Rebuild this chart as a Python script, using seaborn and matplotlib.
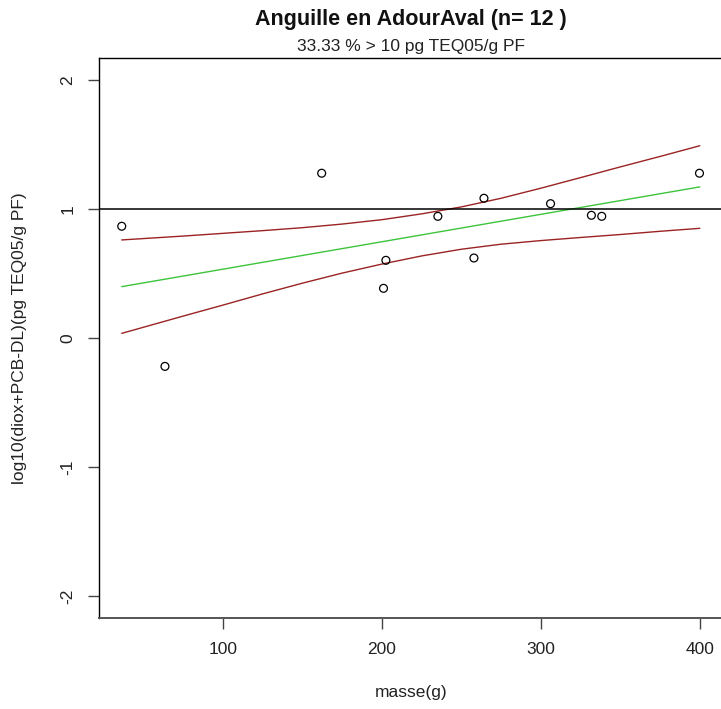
import matplotlib
matplotlib.use("Agg")
import matplotlib.pyplot as plt
import seaborn as sns
import pandas as pd

# ---- data ----
masse = [36.3, 63.5, 162.1, 201.0, 202.5, 235.2, 257.9, 264.2, 306.1, 331.8, 338.3, 399.8]
log_teq = [0.866, -0.22, 1.277, 0.385, 0.602, 0.943, 0.62, 1.083, 1.041, 0.951, 0.943, 1.277]

fit_x = [36.3, 400.0]
fit_y = [0.398, 1.171]

band_x = [36.3, 75, 100, 125, 150, 175, 200, 225, 250, 275, 300, 325, 350, 375, 400]
band_upper = [0.760, 0.790, 0.811, 0.832, 0.855, 0.883, 0.917, 0.962, 1.016,
              1.083, 1.161, 1.243, 1.326, 1.407, 1.490]
band_lower = [0.036, 0.170, 0.255, 0.342, 0.425, 0.503, 0.573, 0.636, 0.688,
              0.727, 0.755, 0.779, 0.802, 0.827, 0.850]

threshold = 1.0

x_ticks = [100, 200, 300, 400]
y_ticks = [-2, -1, 0, 1, 2]
y_tick_labels = ["-2", "-1", "0", "1", "2"]

title = "Anguille en AdourAval (n= 12 )"
subtitle = "33.33 % > 10 pg TEQ05/g PF"
xlabel = "masse(g)"
ylabel = "log10(diox+PCB-DL)(pg TEQ05/g PF)"

# ---- plotting ----
sns.set_theme(style="white")
plt.rcParams["font.family"] = ["Liberation Sans", "DejaVu Sans"]

W, H = 721, 709
fig = plt.figure(figsize=(W / 100, H / 100), dpi=100)
left, right, top, bottom = 99, 723, 58, 618
ax = fig.add_axes([left / W, 1 - bottom / H, (right - left) / W, (bottom - top) / H])

pts = pd.DataFrame({"masse": masse, "log": log_teq})
sns.scatterplot(data=pts, x="masse", y="log", ax=ax, marker="o", s=32,
                facecolor="none", edgecolor="black", linewidth=0.9, zorder=5)

sns.lineplot(x=band_x, y=band_upper, ax=ax, color="#9b2323", linewidth=1.0, estimator=None)
sns.lineplot(x=band_x, y=band_lower, ax=ax, color="#9b2323", linewidth=1.0, estimator=None)
sns.lineplot(x=fit_x, y=fit_y, ax=ax, color="#3cc43c", linewidth=1.0, estimator=None)

ax.axhline(threshold, color="black", linewidth=1.1, zorder=4)

ax.set_xlim(22, 414.6)
ax.set_ylim(-2.17, 2.17)
ax.set_xticks(x_ticks)
ax.set_xticklabels([str(t) for t in x_ticks])
ax.set_yticks(y_ticks)
ax.set_yticklabels(y_tick_labels, rotation=90, va="center")
ax.set_xlabel("")
ax.set_ylabel("")

ax.tick_params(axis="both", which="major", direction="out", length=8, width=1,
               color="#444444", labelsize=12.5, labelcolor="#222222", pad=9,
               bottom=True, left=True)
for side in ["left", "bottom", "top"]:
    ax.spines[side].set_visible(True)
    ax.spines[side].set_color("black")
    ax.spines[side].set_linewidth(1.0)
ax.spines["bottom"].set_color("#555555")
ax.spines["bottom"].set_linewidth(1.4)
ax.spines["right"].set_visible(False)

cx = (left + right) / 2 / W
fig.text(cx, 1 - 20 / H, title, ha="center", va="center", fontsize=15.5,
         fontweight="bold", color="#111111")
fig.text(cx, 1 - 47 / H, subtitle, ha="center", va="center", fontsize=12.5,
         color="#222222")
fig.text(cx, 1 - 693 / H, xlabel, ha="center", va="center", fontsize=12.5,
         color="#222222")
fig.text(20 / W, 1 - 338 / H, ylabel, ha="center", va="center", fontsize=12.5,
         rotation=90, color="#222222")

fig.savefig("out.png", dpi=100, facecolor="white")
